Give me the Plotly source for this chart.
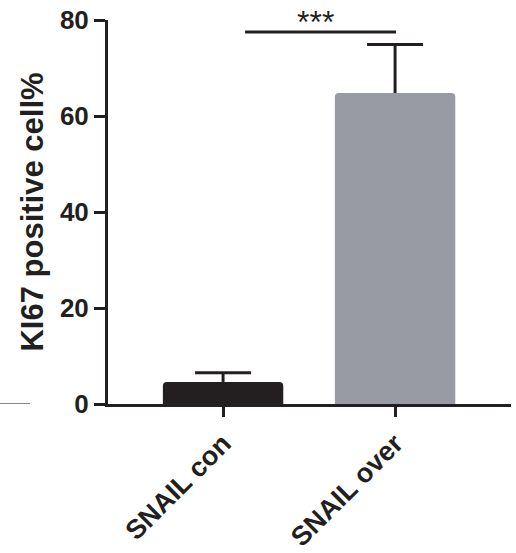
import plotly.graph_objects as go

categories = ["SNAIL con", "SNAIL over"]
means = [4.6, 64.8]
errors = [1.9, 10.1]
bar_colors = ["#231f20", "#999ba4"]
y_ticks = [0, 20, 40, 60, 80]
sig_label = "***"
sig_y = 77.5

FONT = "Liberation Sans, Arial, sans-serif"
INK = "#231f20"

fig = go.Figure()
fig.add_trace(go.Bar(
    x=categories,
    y=means,
    width=0.70,
    marker=dict(color=bar_colors, line=dict(width=0)),
))

# upward-only error bars (SEM) drawn on the data axes
for i, (m, e) in enumerate(zip(means, errors)):
    fig.add_shape(type="line", xref="x", yref="y", x0=i, x1=i, y0=m, y1=m + e,
                  line=dict(color=INK, width=3))
    fig.add_shape(type="line", xref="x", yref="y", xsizemode="pixel", xanchor=i,
                  x0=-28, x1=28, y0=m + e, y1=m + e, line=dict(color=INK, width=3))

# significance bracket
fig.add_shape(type="line", xref="x", yref="y", x0=0.128, x1=1.006, y0=sig_y, y1=sig_y,
              line=dict(color=INK, width=3))
fig.add_annotation(x=0.54, y=0.944, xref="x", yref="paper", text=sig_label, showarrow=False,
                   yanchor="bottom", font=dict(family=FONT, size=32, color=INK))
# stray line at left edge
fig.add_shape(type="line", xref="paper", yref="y", x0=-108/403, x1=-78/403, y0=-0.2, y1=-0.2,
              line=dict(color=INK, width=3))

fig.update_layout(
    width=516, height=553,
    margin=dict(l=108, r=5, t=20, b=149, autoexpand=False),
    paper_bgcolor="white", plot_bgcolor="white",
    showlegend=False,
    barcornerradius=4,
    font=dict(family=FONT, color=INK),
)
fig.update_xaxes(
    range=[-0.669, 1.674],
    automargin=False,
    showline=True, linecolor=INK, linewidth=3,
    ticks="outside", ticklen=10, tickwidth=3, tickcolor=INK,
    tickangle=-45,
    tickfont=dict(family=FONT, size=27, weight="bold", color=INK),
    showgrid=False, zeroline=False,
)
fig.update_yaxes(
    range=[0, 80],
    automargin=False,
    ticklabeloverflow="allow",
    tickvals=y_ticks,
    showline=True, linecolor=INK, linewidth=3,
    ticks="outside", ticklen=11, tickwidth=3, tickcolor=INK,
    tickfont=dict(family=FONT, size=26, weight="bold", color=INK),
    title=dict(text="KI67 positive cell%", standoff=8,
               font=dict(family=FONT, size=31, weight="bold", color=INK)),
    showgrid=False, zeroline=False,
)

fig.write_html("out.html", config={"displayModeBar": False},
               post_script="document.body.style.margin='0';")
